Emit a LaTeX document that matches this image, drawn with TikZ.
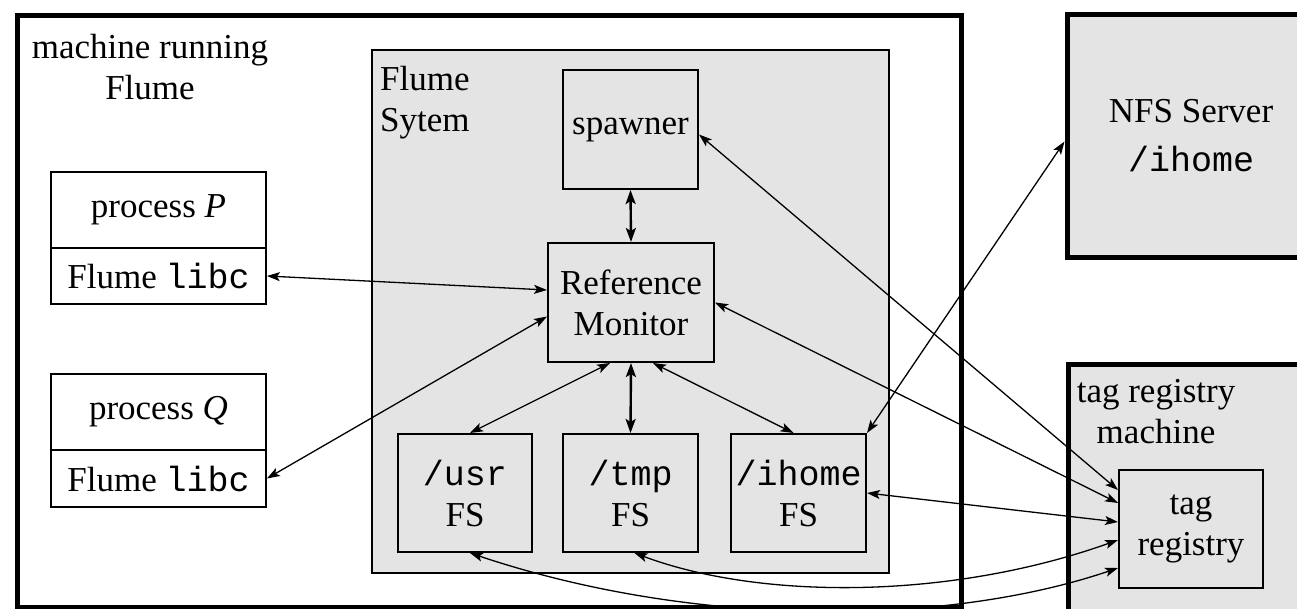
\documentclass[tikz,border=0pt]{standalone}
\usepackage{fontspec}
\setmainfont{Liberation Serif}
\setmonofont{Liberation Mono}
\usetikzlibrary{arrows.meta,calc}
\definecolor{boxgray}{HTML}{E4E4E4}
\begin{document}
\begin{tikzpicture}[x=1pt,y=-1pt,
  every node/.style={font=\fontsize{35}{41}\selectfont, inner sep=0pt},
  machine/.style={draw, line width=5pt, rectangle},
  sysbox/.style={draw, line width=1.8pt, rectangle, fill=boxgray},
  comp/.style={draw, line width=2pt, rectangle, fill=boxgray, align=center},
  proc/.style={draw, line width=1.8pt, rectangle, fill=white, align=center, minimum width=215pt},
  link/.style={line width=1.3pt, {Stealth[length=13pt,width=9pt,inset=3pt]}-{Stealth[length=13pt,width=9pt,inset=3pt]}},
  biglink/.style={line width=2.4pt, {Stealth[length=14pt,width=10pt,inset=3pt]}-{Stealth[length=14pt,width=10pt,inset=3pt]}},
  lbl/.style={align=center}
]
\useasboundingbox (0,0) rectangle (1297,608);
\fill[white] (0,0) rectangle (1297,608);

% containers
\node[machine, minimum width=944pt, minimum height=592pt] (host) at (489,311) {};
\node[lbl] (hostlbl) at (150,67) {machine running\\Flume};
\node[sysbox, minimum width=517pt, minimum height=523pt] (sys) at (630.5,311.5) {};
\node[anchor=north west, align=left] (syslbl) at (380,66) {Flume\\Sytem};

\node[machine, fill=boxgray, minimum width=248pt, minimum height=243pt, align=center] (nfs) at (1191,135.5) {NFS Server\\[8pt]\texttt{/ihome}};
\node[machine, fill=boxgray, minimum width=248pt, minimum height=260pt] (tagm) at (1192,494) {};
\node[lbl] (tagmlbl) at (1156,412) {tag registry\\machine};

% components
\node[comp, minimum width=135pt, minimum height=119pt] (spawner) at (630.5,129.5) {spawner};
\node[comp, minimum width=166pt, minimum height=119pt] (rm) at (631,302.5) {Reference\\Monitor};
\node[comp, minimum width=134pt, minimum height=118pt] (usr) at (465,493) {\texttt{/usr}\\FS};
\node[comp, minimum width=135pt, minimum height=118pt] (tmp) at (630.5,493) {\texttt{/tmp}\\FS};
\node[comp, minimum width=135pt, minimum height=118pt] (ihome) at (798.5,493) {\texttt{/ihome}\\FS};
\node[comp, minimum width=144pt, minimum height=118pt] (tagreg) at (1191,529) {tag\\registry};

% processes
\node[proc, minimum height=76pt] (procP) at (158.5,210) {process \textit{P}};
\node[proc, minimum height=56pt] (libcP) at (158.5,276) {Flume \texttt{libc}};
\node[proc, minimum height=76pt] (procQ) at (158.5,412) {process \textit{Q}};
\node[proc, minimum height=57pt] (libcQ) at (158.5,478.5) {Flume \texttt{libc}};

% connectors
\draw[link] (libcP.east) -- ([yshift=12.5pt]rm.west);
\draw[link] (libcQ.east) -- ([yshift=-14pt]rm.west);
\draw[biglink] (spawner.south) -- (rm.north);
\draw[biglink] (rm.south) -- (tmp.north);
\draw[link] ([xshift=-21pt]rm.south) -- ([xshift=5pt]usr.north);
\draw[link] ([xshift=22pt]rm.south) -- ([xshift=-5pt]ihome.north);
\draw[link] ([yshift=-5pt]spawner.east) -- ([yshift=39pt]tagreg.west);
\draw[link] (rm.east) -- ([yshift=26pt]tagreg.west);
\draw[link] (ihome.north east) -- ([yshift=-6pt]nfs.west);
\draw[link] (ihome.east) -- ([yshift=7pt]tagreg.west);
\draw[link] ([xshift=4pt]tmp.south) .. controls (760,600) and (950,600) .. ([yshift=-11pt]tagreg.west);
\draw[link] ([xshift=5pt]usr.south) .. controls (700,630) and (950,625) .. ([yshift=-39pt]tagreg.west);
\end{tikzpicture}
\end{document}
